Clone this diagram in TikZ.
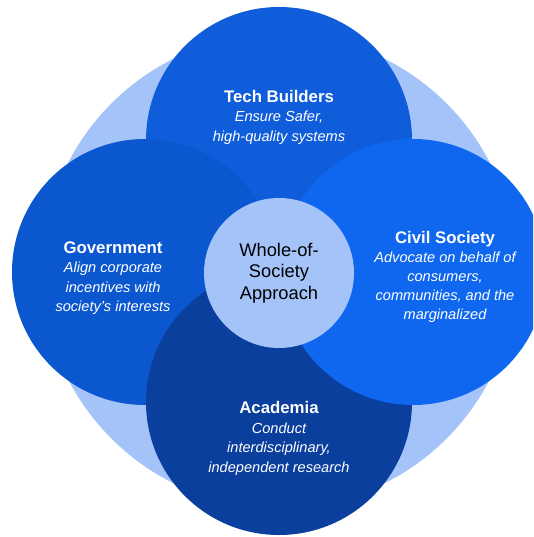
\documentclass[tikz,border=0pt]{standalone}
\usepackage{fontspec}
\setmainfont{Liberation Sans}
\definecolor{ringblue}{HTML}{A4C3F9}
\definecolor{techblue}{HTML}{0F5DDB}
\definecolor{govblue}{HTML}{0B57D0}
\definecolor{acadblue}{HTML}{0B3F9D}
\definecolor{civilblue}{HTML}{0E67EE}
\newcommand{\rolehead}[1]{{\upshape\bfseries\fontsize{16.8}{19.5}\selectfont #1}}
\begin{document}
\begin{tikzpicture}[x=1pt, y=-1pt]
    \tikzset{
        disc/.style={circle, inner sep=0pt, minimum size=#1},
        role/.style={align=center, inner sep=0pt, text=white,
            font=\fontsize{14.6}{19.5}\selectfont\itshape},
    }
    \clip (0,0) rectangle (533,537);
    % outer ring, then the four groups
    \node[disc=474pt, fill=ringblue] (ring) at (279,271) {};
    \node[disc=266pt, fill=techblue] (tech) at (279,140) {};
    \node[disc=266pt, fill=govblue] (gov) at (145,272) {};
    \node[disc=266pt, fill=acadblue] (acad) at (279,402) {};
    \node[disc=266pt, fill=civilblue] (civil) at (413,272) {};
    \node[disc=150pt, fill=ringblue, align=center,
        font=\fontsize{18.3}{21.5}\selectfont] (core) at (279,273)
        {Whole-of-\\Society\\Approach};
    % labels
    \node[role] (techtext) at (279,117)
        {\rolehead{Tech Builders}\\Ensure Safer,\\high-quality systems};
    \node[role] (govtext) at (113,278)
        {\rolehead{Government}\\Align corporate\\incentives with\\society’s interests};
    \node[role, font=\fontsize{14.6}{19}\selectfont\itshape] (civiltext) at (445,276.5)
        {\rolehead{Civil Society}\\Advocate on behalf of\\consumers,\\communities, and the\\marginalized};
    \node[role] (acadtext) at (279,438.5)
        {\rolehead{Academia}\\Conduct\\interdisciplinary,\\independent research};
\end{tikzpicture}
\end{document}
